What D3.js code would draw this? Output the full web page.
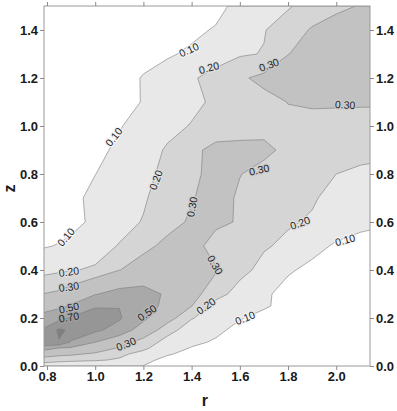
<!DOCTYPE html>
<html>
<head>
<meta charset="utf-8">
<script src="https://cdn.jsdelivr.net/npm/d3@7"></script>
<style>
body { margin: 0; background: #fff; }
text { font-family: "Liberation Sans", Arial, sans-serif; }
</style>
</head>
<body>
<svg id="chart" width="397" height="411"></svg>
<script>
// grid columns (r) and rows (z) of the sampled field
var rCols = [0.78, 0.85, 0.9, 1.0, 1.1, 1.2, 1.3, 1.4, 1.5, 1.6, 1.7, 1.8, 1.9, 2.0, 2.1, 2.2];
var zRows = [0, 0.025, 0.05, 0.075, 0.1, 0.15, 0.2, 0.25, 0.3, 0.4, 0.5, 0.6, 0.7, 0.8, 0.9, 1.0, 1.1, 1.2, 1.3, 1.4, 1.5];

// values, one row per z (bottom to top)
var field = [
  [0.14, 0.13, 0.13, 0.12, 0.11, 0.098, 0.05, 0.02, 0.01, 0.005, 0.00, 0.00, 0.00, 0.00, 0.00, 0.00],
  [0.25, 0.23, 0.22, 0.21, 0.19, 0.13, 0.07, 0.04, 0.02, 0.01, 0.005, 0.00, 0.00, 0.00, 0.00, 0.00],
  [0.36, 0.33, 0.32, 0.28, 0.22, 0.17, 0.11, 0.07, 0.04, 0.02, 0.01, 0.005, 0.00, 0.00, 0.00, 0.00],
  [0.60, 0.50, 0.48, 0.38, 0.29, 0.22, 0.14, 0.095, 0.07, 0.03, 0.02, 0.01, 0.005, 0.00, 0.00, 0.00],
  [0.88, 0.89, 0.68, 0.505, 0.36, 0.25, 0.17, 0.12, 0.09, 0.05, 0.03, 0.02, 0.01, 0.005, 0.00, 0.00],
  [0.71, 0.93, 0.87, 0.74, 0.62, 0.40, 0.23, 0.16, 0.12, 0.075, 0.05, 0.03, 0.02, 0.01, 0.005, 0.00],
  [0.56, 0.64, 0.72, 0.80, 0.72, 0.54, 0.35, 0.205, 0.16, 0.105, 0.08, 0.05, 0.04, 0.02, 0.01, 0.01],
  [0.42, 0.46, 0.52, 0.68, 0.695, 0.66, 0.40, 0.302, 0.16, 0.13, 0.108, 0.08, 0.06, 0.03, 0.02, 0.015],
  [0.30, 0.32, 0.36, 0.49, 0.56, 0.58, 0.47, 0.34, 0.24, 0.16, 0.115, 0.07, 0.07, 0.04, 0.03, 0.025],
  [0.17, 0.185, 0.195, 0.21, 0.298, 0.34, 0.38, 0.38, 0.31, 0.23, 0.17, 0.11, 0.08, 0.06, 0.05, 0.05],
  [0.092, 0.105, 0.13, 0.165, 0.205, 0.28, 0.32, 0.35, 0.25, 0.23, 0.21, 0.18, 0.125, 0.09, 0.08, 0.08],
  [0.06, 0.065, 0.065, 0.125, 0.17, 0.205, 0.275, 0.31, 0.325, 0.29, 0.25, 0.21, 0.19, 0.14, 0.115, 0.105],
  [0.05, 0.05, 0.08, 0.12, 0.15, 0.19, 0.245, 0.295, 0.33, 0.29, 0.27, 0.24, 0.21, 0.17, 0.15, 0.14],
  [0.04, 0.04, 0.06, 0.099, 0.13, 0.17, 0.23, 0.28, 0.33, 0.302, 0.28, 0.25, 0.23, 0.20, 0.18, 0.17],
  [0.03, 0.03, 0.05, 0.08, 0.115, 0.16, 0.21, 0.275, 0.33, 0.32, 0.315, 0.285, 0.27, 0.25, 0.235, 0.225],
  [0.03, 0.03, 0.04, 0.06, 0.095, 0.13, 0.175, 0.205, 0.24, 0.27, 0.28, 0.28, 0.275, 0.27, 0.265, 0.26],
  [0.02, 0.02, 0.03, 0.05, 0.08, 0.103, 0.14, 0.18, 0.215, 0.24, 0.27, 0.302, 0.31, 0.31, 0.31, 0.31],
  [0.02, 0.02, 0.03, 0.04, 0.07, 0.105, 0.14, 0.19, 0.23, 0.285, 0.325, 0.35, 0.38, 0.39, 0.39, 0.39],
  [0.02, 0.02, 0.03, 0.03, 0.05, 0.075, 0.09, 0.115, 0.16, 0.19, 0.204, 0.298, 0.33, 0.36, 0.37, 0.37],
  [0.02, 0.02, 0.02, 0.03, 0.04, 0.06, 0.07, 0.08, 0.108, 0.16, 0.195, 0.25, 0.31, 0.34, 0.35, 0.36],
  [0.02, 0.02, 0.02, 0.02, 0.03, 0.04, 0.05, 0.06, 0.07, 0.13, 0.17, 0.19, 0.24, 0.28, 0.305, 0.33]
];

var levels = [0.1, 0.2, 0.3, 0.5, 0.7, 0.9];
var levelColors = ["#e8e8e8", "#d5d5d5", "#c2c2c2", "#a9a9a9", "#969696", "#808080"];
var haloColors = ["#f4f4f4", "#dfdfdf", "#cbcbcb", "#b5b5b5", "#a0a0a0", "#8a8a8a"];

var rTicks = [0.8, 1.0, 1.2, 1.4, 1.6, 1.8, 2.0];
var zTicks = [0.0, 0.2, 0.4, 0.6, 0.8, 1.0, 1.2, 1.4];

// contour labels: r, z, angle, level
var labelR =     [1.389, 1.472, 1.721, 2.037, 1.078, 1.252, 1.402, 1.680, 1.497, 1.850, 2.037, 1.460, 1.622, 0.879, 0.891, 0.891, 0.891, 0.891, 1.215, 1.128];
var labelZ =     [1.317, 1.242, 1.254, 1.088, 0.954, 0.775, 0.663, 0.817, 0.421, 0.596, 0.525, 0.250, 0.200, 0.537, 0.392, 0.329, 0.242, 0.203, 0.221, 0.092];
var labelAngle = [-25, -15, -20, 3, -52, -70, -80, -12, 60, -20, -15, -35, -22, -50, -8, -8, -12, -10, -35, -22];
var labelLevel = [0.1, 0.2, 0.3, 0.3, 0.1, 0.2, 0.3, 0.3, 0.3, 0.2, 0.1, 0.2, 0.1, 0.1, 0.2, 0.3, 0.5, 0.7, 0.5, 0.3];

var margin = {top: 6, right: 27, bottom: 45, left: 44};
var width = 397 - margin.left - margin.right;
var height = 411 - margin.top - margin.bottom;

var svg = d3.select("svg#chart");
var g = svg.append("g").attr("transform", "translate(" + margin.left + "," + margin.top + ")");

var x = d3.scaleLinear().domain([0.7876, 2.14]).range([0, width]);
var y = d3.scaleLinear().domain([0, 1.5]).range([height, 0]);

// grid index -> data value (piecewise linear, rows/cols not evenly spaced)
var colToR = d3.scaleLinear().domain(d3.range(rCols.length)).range(rCols).clamp(true);
var rowToZ = d3.scaleLinear().domain(d3.range(zRows.length)).range(zRows).clamp(true);

var nx = rCols.length, ny = zRows.length;
var values = [];
field.forEach(function(row) { row.forEach(function(v) { values.push(v); }); });

var contours = d3.contours().size([nx, ny]).thresholds(levels)(values);

var toPlot = d3.geoTransform({
  point: function(px, py) {
    this.stream.point(x(colToR(px - 0.5)), y(rowToZ(py - 0.5)));
  }
});
var path = d3.geoPath(toPlot);

svg.append("defs").append("clipPath").attr("id", "plotclip")
  .append("rect").attr("width", width).attr("height", height);

g.append("g")
  .attr("clip-path", "url(#plotclip)")
  .selectAll("path")
  .data(contours)
  .enter().append("path")
  .attr("d", path)
  .attr("fill", function(d, i) { return levelColors[i]; })
  .attr("stroke", "#7a7a7a")
  .attr("stroke-width", 0.6)
  .attr("stroke-linejoin", "round");

// contour labels
var fmt2 = d3.format(".2f");
g.append("g").selectAll("text")
  .data(labelR)
  .enter().append("text")
  .attr("transform", function(d, i) {
    return "translate(" + x(d) + "," + y(labelZ[i]) + ") rotate(" + labelAngle[i] + ")";
  })
  .attr("text-anchor", "middle")
  .attr("dy", "0.35em")
  .attr("font-size", "10.5px")
  .attr("fill", "#1e1e1e")
  .attr("stroke", function(d, i) { return haloColors[levels.indexOf(labelLevel[i])]; })
  .attr("stroke-width", 2.5)
  .attr("paint-order", "stroke")
  .text(function(d, i) { return fmt2(labelLevel[i]); });

// frame
g.append("rect")
  .attr("width", width).attr("height", height)
  .attr("fill", "none").attr("stroke", "#9a9a9a").attr("stroke-width", 1);

var fmt1 = d3.format(".1f");

function styleAxis(sel) {
  sel.select(".domain").remove();
  sel.selectAll(".tick line").attr("stroke", "#8a8a8a");
  sel.selectAll(".tick text")
    .attr("font-size", "13px")
    .attr("font-weight", "bold")
    .attr("fill", "#1a1a1a");
}

g.append("g").call(d3.axisLeft(y).tickValues(zTicks).tickFormat(fmt1).tickSize(4).tickPadding(2)).call(styleAxis);
g.append("g").attr("transform", "translate(" + width + ",0)")
  .call(d3.axisRight(y).tickValues(zTicks).tickFormat(fmt1).tickSize(4).tickPadding(2)).call(styleAxis);
g.append("g").attr("transform", "translate(0," + height + ")")
  .call(d3.axisBottom(x).tickValues(rTicks).tickFormat(fmt1).tickSize(4).tickPadding(2)).call(styleAxis);
g.append("g")
  .call(d3.axisTop(x).tickValues(rTicks).tickFormat("").tickSize(4)).call(styleAxis);

// axis titles
svg.append("text")
  .attr("x", margin.left + x(1.455)).attr("y", 406)
  .attr("text-anchor", "middle")
  .attr("font-size", "16px").attr("font-weight", "bold").attr("fill", "#1a1a1a")
  .text("r");

svg.append("text")
  .attr("transform", "translate(15," + (margin.top + y(0.74)) + ") rotate(-90)")
  .attr("text-anchor", "middle")
  .attr("font-size", "16px").attr("font-weight", "bold").attr("fill", "#1a1a1a")
  .text("z");
</script>
</body>
</html>
